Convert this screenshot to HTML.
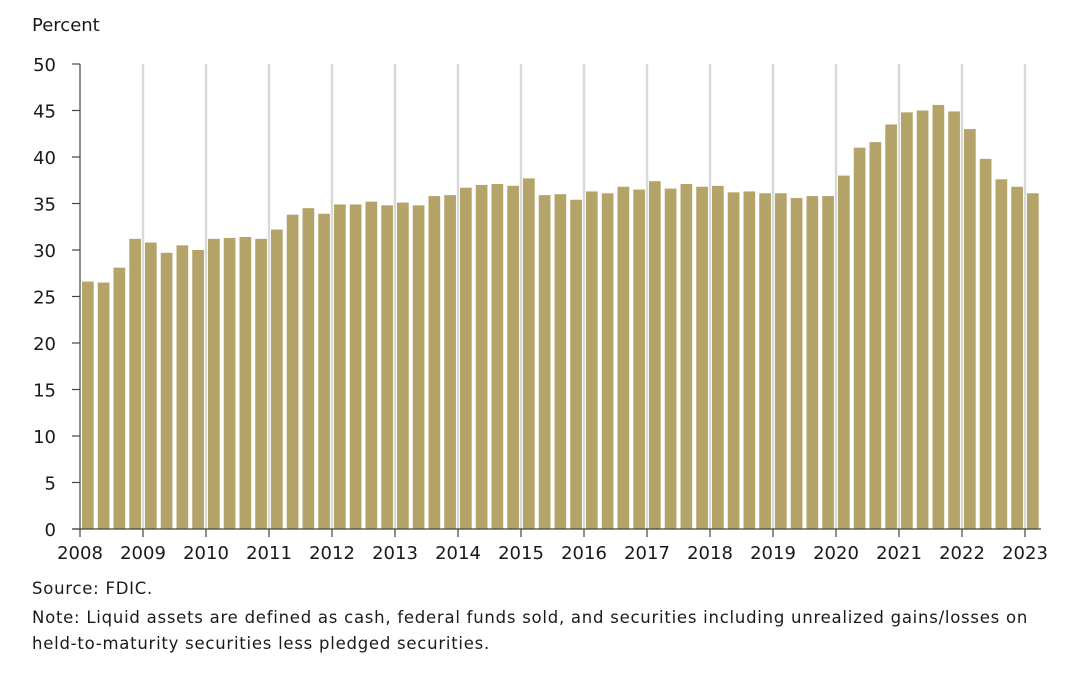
<!DOCTYPE html>
<html><head><meta charset="utf-8"><style>
body{margin:0;background:#fff;width:1086px;height:685px;overflow:hidden;font-family:"DejaVu Sans","Liberation Sans",sans-serif;color:#1a1a1a}
.t{position:absolute;white-space:nowrap}
</style></head><body>
<div class="t" style="left:32px;top:15px;font-size:18px">Percent</div>
<svg id="c" width="1086" height="685" style="position:absolute;left:0;top:0;font-family:'DejaVu Sans','Liberation Sans',sans-serif"></svg>
<div class="t" style="left:32px;top:579px;font-size:16.5px;letter-spacing:0.75px">Source: FDIC.</div>
<div class="t" style="left:32px;top:605px;font-size:16.5px;letter-spacing:0.75px;line-height:26px">Note: Liquid assets are defined as cash, federal funds sold, and securities including unrealized gains/losses on<br>held-to-maturity securities less pledged securities.</div>
<script>
const years=[2008,2009,2010,2011,2012,2013,2014,2015,2016,2017,2018,2019,2020,2021,2022,2023];
const yTicks=[0,5,10,15,20,25,30,35,40,45,50];
const values=[26.6,26.5,28.1,31.2,30.8,29.7,30.5,30.0,31.2,31.3,31.4,31.2,32.2,33.8,34.5,33.9,34.9,34.9,35.2,34.8,35.1,34.8,35.8,35.9,36.7,37.0,37.1,36.9,37.7,35.9,36.0,35.4,36.3,36.1,36.8,36.5,37.4,36.6,37.1,36.8,36.9,36.2,36.3,36.1,36.1,35.6,35.8,35.8,38.0,41.0,41.6,43.5,44.8,45.0,45.6,44.9,43.0,39.8,37.6,36.8,36.1];
const NS='http://www.w3.org/2000/svg',svg=document.getElementById('c');
const x0=80,yr=63,y0=529,yTop=64;
const X=t=>x0+(t-2008)*yr;
const Y=v=>y0-(v/50)*(y0-yTop);
function mk(tag,a){const e=document.createElementNS(NS,tag);for(const k in a)e.setAttribute(k,a[k]);svg.appendChild(e);return e;}
years.forEach(yv=>{if(yv===2008)return;
const g=mk('line',{x1:X(yv),x2:X(yv),y1:yTop,y2:y0,stroke:'#d9d9d9','stroke-width':2.5});

});
values.forEach((v,i)=>{const t=2008+i/4;
const r=mk('rect',{x:X(t)+2,y:Y(v),width:11.7,height:y0-Y(v),fill:'#b4a46a'});

});
const ax=mk('line',{x1:x0,x2:x0,y1:yTop,y2:y0,stroke:'#444','stroke-width':1.2});


const bx=mk('line',{x1:x0-8,x2:1041,y1:y0,y2:y0,stroke:'#444','stroke-width':1.2});


yTicks.forEach(v=>{mk('line',{x1:x0-8,x2:x0,y1:Y(v),y2:Y(v),stroke:'#444','stroke-width':1.2});
const tx=mk('text',{x:56,y:Y(v)+7,'text-anchor':'end','font-size':18,fill:'#1a1a1a'});tx.textContent=v;

});
years.forEach(yv=>{mk('line',{x1:X(yv),x2:X(yv),y1:y0,y2:y0+8,stroke:'#444','stroke-width':1.2});
const tx=mk('text',{x:X(yv),y:y0+30,'text-anchor':'middle','font-size':18,fill:'#1a1a1a'});tx.textContent=yv;

});
</script>
</body></html>
